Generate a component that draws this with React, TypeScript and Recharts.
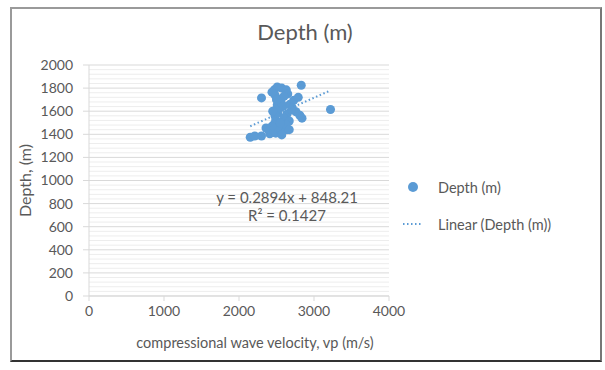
import {
  ScatterChart, Scatter, XAxis, YAxis, ZAxis, CartesianGrid, ReferenceLine, Label, Legend,
} from 'recharts'

// vp (m/s) and depth (m)
const vp = [
  2150, 2210, 2300, 2410, 2490, 2560, 2640, 2600, 2520,
  2470, 2490, 2480, 2520, 2490, 2550, 2510, 2590, 2560, 2520, 2480, 2470, 2510, 2570, 2630, 2650, 2600, 2440,
  2680, 2730, 2790, 2710, 2760, 2810, 2840, 2640, 2600, 2670, 2630,
  2300, 2830, 3220,
  2390, 2440, 2360, 2570, 2670, 2450, 2550, 2700, 2500,
]
const depth = [
  1375, 1385, 1385, 1405, 1410, 1430, 1440, 1455, 1465,
  1490, 1525, 1560, 1585, 1610, 1630, 1655, 1645, 1680, 1705, 1740, 1785, 1810, 1800, 1785, 1750, 1730, 1765,
  1660, 1695, 1720, 1630, 1595, 1565, 1540, 1575, 1540, 1515, 1480,
  1715, 1825, 1615,
  1440, 1470, 1455, 1395, 1440, 1600, 1500, 1610, 1700,
]

// trendline end points, from y = 0.2894x + 848.21
const trendVp = [2150, 3220]
const trendDepth = [1470, 1780]

const xTicks = [0, 1000, 2000, 3000, 4000]
const yTicks = [0, 200, 400, 600, 800, 1000, 1200, 1400, 1600, 1800, 2000]
const minorStep = 40

const BLUE = '#5b9bd5'
const TEXT = '#595959'
const FONT = 'Lato, "Open Sans", sans-serif'

const points = vp.map((v, i) => ({ vp: v, depth: depth[i] }))
const trend = trendVp.map((v, i) => ({ vp: v, depth: trendDepth[i] }))
const minorLines: number[] = []
for (let v = minorStep; v < 2000; v += minorStep) if (v % 200 !== 0) minorLines.push(v)

function LegendBox() {
  return (
    <div style={{ fontFamily: FONT, fontSize: 14.5, color: TEXT }}>
      <div style={{ display: 'flex', alignItems: 'center', height: 20 }}>
        <svg width={37} height={12}>
          <circle cx={12} cy={6} r={5} fill={BLUE} />
        </svg>
        <span>Depth (m)</span>
      </div>
      <div style={{ display: 'flex', alignItems: 'center', height: 20, marginTop: 17 }}>
        <svg width={37} height={12}>
          <line x1={2} y1={6} x2={21} y2={6} stroke={BLUE} strokeWidth={2} strokeDasharray="1.5 2.5" />
        </svg>
        <span>Linear (Depth (m))</span>
      </div>
    </div>
  )
}

export default function App() {
  return (
    <div style={{ position: 'absolute', left: 0, top: 0, width: 605, height: 370, background: '#fff' }}>
      <div
        style={{
          position: 'absolute', left: 10, top: 7, width: 588, height: 351,
          borderLeft: '2px solid #9a9a9a', borderTop: '2px solid #9a9a9a',
          borderRight: '2px solid #777', borderBottom: '2px solid #333',
          boxSizing: 'content-box',
        }}
      />
      <div
        style={{
          position: 'absolute', left: 10, top: 18, width: 590, textAlign: 'center',
          fontFamily: FONT, fontSize: 22, color: TEXT,
        }}
      >
        Depth (m)
      </div>
      <div style={{ position: 'absolute', left: 10, top: 7 }}>
        {/* legend (200 wide) is added to the right margin by recharts */}
        <ScatterChart width={590} height={353} margin={{ top: 58, right: 11, bottom: 8, left: 0 }}>
          <CartesianGrid vertical={false} stroke="#d9d9d9" />
          {minorLines.map((v) => (
            <ReferenceLine key={v} y={v} stroke="#ededed" strokeWidth={1} />
          ))}
          <XAxis
            type="number" dataKey="vp" domain={[0, 4000]} ticks={xTicks} height={56}
            stroke="#d9d9d9" tickSize={5} tickMargin={5}
            tick={{ fill: TEXT, fontSize: 14, fontFamily: FONT }}
          >
            <Label
              value="compressional wave velocity, vp (m/s)" position="insideBottom" offset={4} dx={16}
              style={{ fill: TEXT, fontSize: 14.5, fontFamily: FONT }}
            />
          </XAxis>
          <YAxis
            type="number" dataKey="depth" domain={[0, 2000]} ticks={yTicks} width={79}
            stroke="#d9d9d9" tickSize={6} tickMargin={10}
            tick={{ fill: TEXT, fontSize: 14, fontFamily: FONT }}
          >
            <Label
              value="Depth, (m)" angle={-90} position="insideLeft" offset={15}
              style={{ fill: TEXT, fontSize: 16, fontFamily: FONT, textAnchor: 'middle' }}
            />
          </YAxis>
          <ZAxis range={[80, 80]} />
          <Scatter name="Depth (m)" data={points} fill={BLUE} isAnimationActive={false} />
          <Scatter
            name="Linear (Depth (m))" data={trend} isAnimationActive={false}
            line={{ stroke: BLUE, strokeWidth: 2, strokeDasharray: '1.5 2.5' }}
            lineType="joint" shape={() => null}
          />
          <Legend
            layout="vertical" align="right" verticalAlign="top"
            wrapperStyle={{ left: 391, top: 170, width: 200 }}
            content={() => <LegendBox />}
          />
        </ScatterChart>
      </div>
      <div
        style={{
          position: 'absolute', left: 187, top: 188, width: 200, textAlign: 'center',
          fontFamily: FONT, fontSize: 15, color: TEXT, lineHeight: '18px',
        }}
      >
        y = 0.2894x + 848.21
        <br />
        R² = 0.1427
      </div>
    </div>
  )
}
